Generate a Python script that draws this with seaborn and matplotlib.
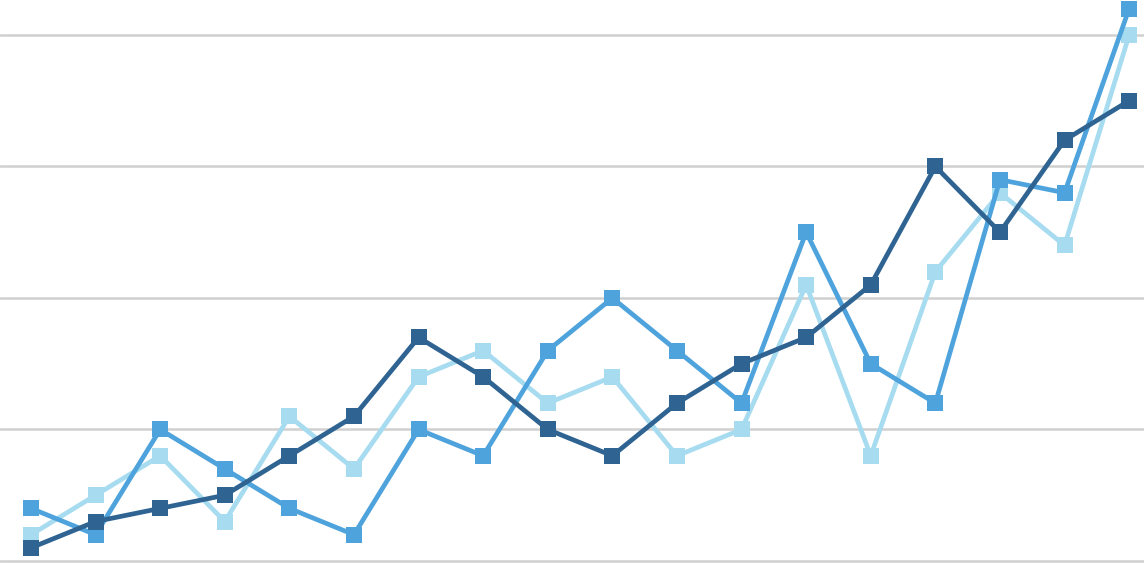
import numpy as np
import pandas as pd
import matplotlib
matplotlib.use("Agg")
import matplotlib.pyplot as plt
import seaborn as sns

# values (gridlines at 0, 10, 20, 30, 40)
points = list(range(18))
series_light = [2, 5, 8, 3, 11, 7, 14, 16, 12, 14, 8, 10, 21, 8, 22, 28, 24, 40]
series_mid = [4, 2, 10, 7, 4, 2, 10, 8, 16, 20, 16, 12, 25, 15, 12, 29, 28, 42]
series_dark = [1, 3, 4, 5, 8, 11, 17, 14, 10, 8, 12, 15, 17, 21, 30, 25, 32, 35]

names = ["light", "mid", "dark"]
colors = ["#A7DCF0", "#4EA3DC", "#2E6392"]

df = pd.DataFrame({
    "x": points * 3,
    "y": series_light + series_mid + series_dark,
    "series": [n for n in names for _ in points],
})

sns.set_style("white")
fig = plt.figure(figsize=(11.44, 5.64), dpi=100)
ax = fig.add_axes([0, 0, 1, 1])

sns.lineplot(data=df, x="x", y="y", hue="series", hue_order=names,
             palette=colors, marker="s", markersize=11.5, markeredgewidth=0,
             linewidth=3.4, legend=False, ax=ax, zorder=3)

for v in [0, 10, 20, 30, 40]:
    ax.axhline(v, color="#D0D0D0", linewidth=1.8, zorder=1)

ax.set_xlim(-0.48, 17.23)
ax.set_ylim(-0.23, 42.66)
ax.set_xticks([])
ax.set_yticks([])
ax.set_xlabel("")
ax.set_ylabel("")
for s in ax.spines.values():
    s.set_visible(False)

fig.savefig("out.png", dpi=100)
